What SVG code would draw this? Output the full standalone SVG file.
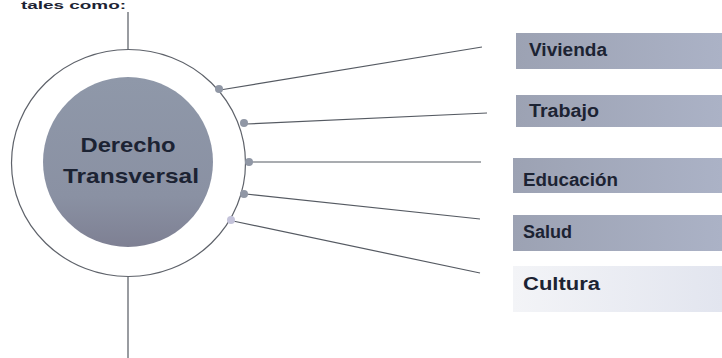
<svg xmlns="http://www.w3.org/2000/svg" width="722" height="358" viewBox="0 0 722 358">
<defs>
<linearGradient id="core" x1="0" y1="0" x2="0" y2="1">
<stop offset="0" stop-color="#8f98a9"/>
<stop offset="0.7" stop-color="#8a91a3"/>
<stop offset="1" stop-color="#7e8093"/>
</linearGradient>
<linearGradient id="bar" x1="0" y1="0" x2="1" y2="0">
<stop offset="0" stop-color="#9ca2b3"/>
<stop offset="1" stop-color="#abb2c6"/>
</linearGradient>
<linearGradient id="barLight" x1="0" y1="0" x2="1" y2="0">
<stop offset="0" stop-color="#f3f4f7"/>
<stop offset="1" stop-color="#e2e5ef"/>
</linearGradient>
</defs>
<style>
.lbl{font-family:"Liberation Sans",Arial,sans-serif;font-weight:bold;font-size:18px;fill:#1c2333}
.ctr{font-family:"Liberation Sans",Arial,sans-serif;font-weight:bold;font-size:21px;fill:#1c2333;text-anchor:middle}
.ln{stroke:#555a62;stroke-width:1.2;fill:none}
.dot{fill:#9097a5}
</style>
<rect width="722" height="358" fill="#ffffff"/>
<text x="21" y="9" class="lbl" style="font-size:11px" textLength="105" lengthAdjust="spacingAndGlyphs">tales como:</text>
<g id="connectors">
<line class="ln" x1="128" y1="12" x2="128" y2="50"/>
<line class="ln" x1="128" y1="277" x2="128" y2="358"/>
<line class="ln" x1="220" y1="90" x2="482" y2="47"/>
<line class="ln" x1="246" y1="124" x2="487" y2="113"/>
<line class="ln" x1="250" y1="162" x2="481" y2="162"/>
<line class="ln" x1="246" y1="194" x2="480" y2="219"/>
<line class="ln" x1="233" y1="221" x2="480" y2="273"/>
</g>
<g id="derecho-transversal">
<ellipse cx="128.5" cy="163" rx="117" ry="113.5" fill="#ffffff" stroke="#5e626a" stroke-width="1.2"/>
<circle cx="128" cy="162" r="85" fill="url(#core)"/>
<text x="128" y="152" class="ctr" textLength="95" lengthAdjust="spacingAndGlyphs">Derecho</text>
<text x="131" y="183" class="ctr" textLength="136" lengthAdjust="spacingAndGlyphs">Transversal</text>
<circle class="dot" cx="219" cy="89" r="4"/>
<circle class="dot" cx="244" cy="123" r="4"/>
<circle class="dot" cx="249" cy="162" r="4"/>
<circle class="dot" cx="244" cy="194" r="4"/>
<circle cx="231" cy="220" r="4" fill="#c4c3da"/>
</g>
<g id="vivienda">
<rect x="516" y="33" width="206" height="36" fill="url(#bar)"/>
<text x="529" y="56" class="lbl" textLength="78" lengthAdjust="spacingAndGlyphs">Vivienda</text>
</g>
<g id="trabajo">
<rect x="516" y="95" width="206" height="32" fill="url(#bar)"/>
<text x="529" y="117" class="lbl" textLength="70" lengthAdjust="spacingAndGlyphs">Trabajo</text>
</g>
<g id="educacion">
<rect x="513" y="158" width="209" height="35" fill="url(#bar)"/>
<text x="523" y="186" class="lbl" textLength="95" lengthAdjust="spacingAndGlyphs">Educación</text>
</g>
<g id="salud">
<rect x="513" y="215" width="209" height="36" fill="url(#bar)"/>
<text x="523" y="238" class="lbl" textLength="49" lengthAdjust="spacingAndGlyphs">Salud</text>
</g>
<g id="cultura">
<rect x="513" y="266" width="209" height="46" fill="url(#barLight)"/>
<text x="523" y="290" class="lbl" textLength="77" lengthAdjust="spacingAndGlyphs">Cultura</text>
</g>
</svg>
